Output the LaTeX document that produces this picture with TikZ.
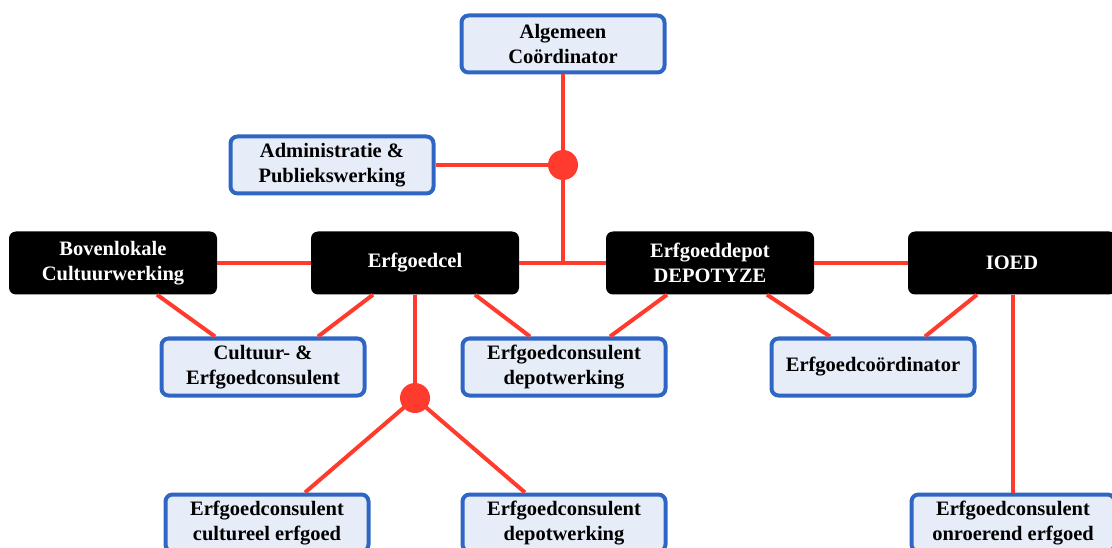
\documentclass[tikz,border=0pt]{standalone}
\usepackage{fontspec}
\setmainfont{Liberation Serif}
\usetikzlibrary{calc}
\definecolor{linkred}{HTML}{FF3B2E}
\definecolor{unitblue}{HTML}{2F66C4}
\definecolor{unitfill}{HTML}{E7EDF8}
\tikzset{
  unit/.style={draw=unitblue, fill=unitfill, line width=4pt, rounded corners=7pt,
    minimum width=203pt, minimum height=57pt, align=center,
    font=\fontsize{20.5}{25}\selectfont\bfseries},
  dept/.style={fill=black, text=white, rounded corners=7pt,
    minimum width=208pt, minimum height=63pt, align=center,
    font=\fontsize{20.5}{25}\selectfont\bfseries},
  link/.style={draw=linkred, line width=4pt},
  hub/.style={circle, fill=linkred, minimum size=30pt, inner sep=0pt},
}

\begin{document}
\begin{tikzpicture}[x=1pt, y=-1pt]
			%%%%% FRAME %%%%%
			\useasboundingbox (0, 0) rectangle (1112, 548);
			\clip (0, 0) rectangle (1112, 548);
			
			%%%%% BOXES %%%%%
			\node[unit] (alg) at (563, 44) {Algemeen\\Coördinator};
			\node[unit] (adm) at (332, 165) {Administratie \&\\Publiekswerking};
			
			\node[dept] (bov) at (113, 263) {Bovenlokale\\Cultuurwerking};
			\node[dept] (cel) at (415, 263) {Erfgoedcel};
			\node[dept] (depot) at (710, 263) {Erfgoeddepot\\DEPOTYZE};
			\node[dept] (ioed) at (1012, 263) {IOED};
			
			\node[unit] (cul) at (263, 367) {Cultuur- \&\\Erfgoedconsulent};
			\node[unit] (dwa) at (564, 367) {Erfgoedconsulent\\depotwerking};
			\node[unit] (coo) at (873, 367) {Erfgoedcoördinator};
			
			\node[unit] (cer) at (267, 523) {Erfgoedconsulent\\cultureel erfgoed};
			\node[unit] (dwb) at (564, 523) {Erfgoedconsulent\\depotwerking};
			\node[unit] (onr) at (1013, 523) {Erfgoedconsulent\\onroerend erfgoed};
			
			%%%%% HUBS %%%%%
			\coordinate (top) at (alg.south |- adm.east);
			\coordinate (bot) at (415, 398);
			
			%%%%% LINKS %%%%%
			\draw[link] (alg.south) -- (alg.south |- cel.east);
			\draw[link] (adm.east) -- (top);
			\draw[link] (bov.east) -- (cel.west);
			\draw[link] (cel.east) -- (depot.west);
			\draw[link] (depot.east) -- (ioed.west);
			
			\draw[link] ([xshift=44]bov.south) -- ([xshift=-48]cul.north);
			\draw[link] ([xshift=-42]cel.south) -- ([xshift=55]cul.north);
			\draw[link] ([xshift=60]cel.south) -- ([xshift=-34]dwa.north);
			\draw[link] ([xshift=-43]depot.south) -- ([xshift=46]dwa.north);
			\draw[link] ([xshift=57]depot.south) -- ([xshift=-43]coo.north);
			\draw[link] ([xshift=-35]ioed.south) -- ([xshift=52]coo.north);
			\draw[link] (onr.north |- ioed.south) -- (onr.north);
			
			\draw[link] (cel.south) -- (bot);
			\draw[link] (bot) -- ([xshift=38]cer.north);
			\draw[link] (bot) -- ([xshift=-39]dwb.north);
			
			\node[hub] (tophub) at (top) {};
			\node[hub] (bothub) at (bot) {};
			
			%%%%% END %%%%%
\end{tikzpicture}
\end{document}
